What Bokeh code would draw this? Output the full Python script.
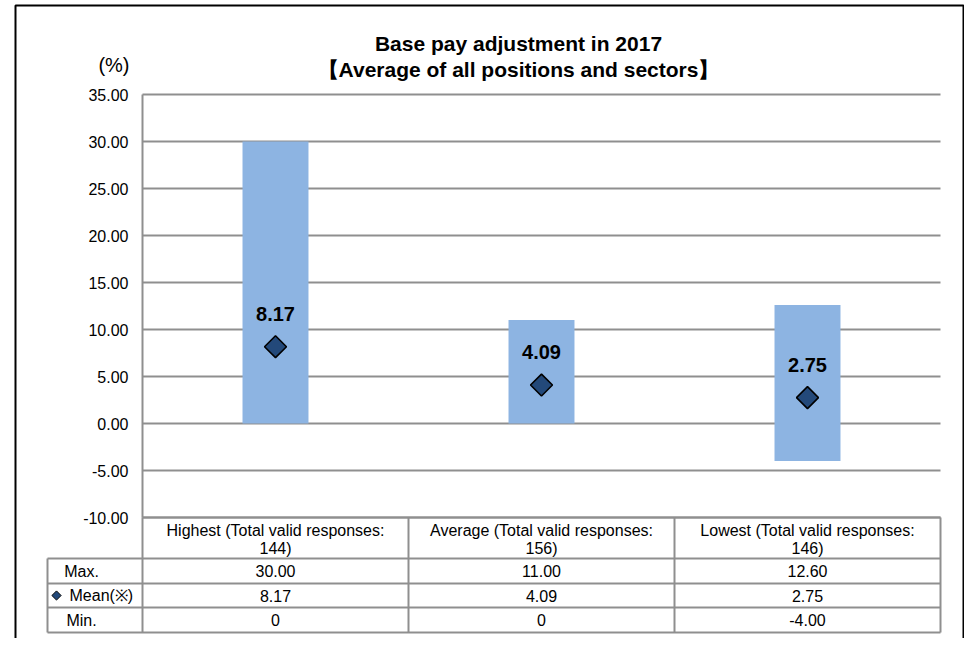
import numpy as np
from bokeh.plotting import figure
from bokeh.models import Range1d, LinearAxis, FixedTicker, NumeralTickFormatter, ColumnDataSource
from bokeh.core.properties import value
from bokeh.embed import file_html
from bokeh.resources import INLINE

# ---------------- data ----------------
categories = ["Highest", "Average", "Lowest"]
valid_responses = [144, 156, 146]
max_values = [30.00, 11.00, 12.60]
mean_values = [8.17, 4.09, 2.75]
min_values = [0.0, 0.0, -4.00]
y_ticks = [-10, -5, 0, 5, 10, 15, 20, 25, 30, 35]
row_labels = ["Max.", "Mean(※)", "Min."]
title_lines = ["Base pay adjustment in 2017", "【Average of all positions and sectors】"]
unit_label = "(%)"

# ---------------- layout (pixels) ----------------
W, H = 964, 638
ORIGIN = 0
plot_left, plot_right = 142, 940
plot_top, plot_bottom = 94, 517
y_min, y_max = -10, 35
n = len(categories)
xs = (plot_right - plot_left) / n
ys = (plot_bottom - plot_top) / (y_max - y_min)


def dx(px):
    return (px - plot_left) / xs


def dy(py):
    return y_max - (py - plot_top) / ys


FONT = value("Liberation Sans")
GRID = "#8f8f8f"

p = figure(width=W, height=H,
           x_range=Range1d(dx(ORIGIN), dx(ORIGIN + W)),
           y_range=Range1d(dy(ORIGIN + H), dy(ORIGIN)),
           x_axis_location=None, y_axis_location=None,
           toolbar_location=None, output_backend="svg",
           min_border=0, min_border_left=0, min_border_right=0,
           min_border_top=0, min_border_bottom=0)
p.grid.visible = False
p.outline_line_color = None
p.background_fill_color = "white"
p.border_fill_color = "white"

centers = [i + 0.5 for i in range(n)]

# horizontal grid lines (chart area)
p.segment(x0=[0] * len(y_ticks), x1=[n] * len(y_ticks), y0=y_ticks, y1=y_ticks,
          line_color=GRID, line_width=2)

# floating bars min..max
src = ColumnDataSource(dict(x=centers, top=max_values, bottom=min_values, mean=mean_values,
                            lab=[f"{v:.2f}" for v in mean_values]))
p.vbar(x="x", top="top", bottom="bottom", width=0.248, source=src,
       fill_color="#8DB4E2", line_color=None)

# mean diamonds
p.scatter(x="x", y="mean", source=src, marker="square", angle=np.pi / 4, size=15.5,
          fill_color="#23497A", line_color="black", line_width=1.6)

# mean labels
p.text(x="x", y="mean", text="lab", source=src, text_align="center", text_baseline="middle",
       y_offset=-33, text_font=FONT, text_font_style="bold", text_font_size="20px",
       text_color="black")

# y axis
yaxis = LinearAxis(fixed_location=0, bounds=(y_min, y_max),
                   ticker=FixedTicker(ticks=y_ticks),
                   formatter=NumeralTickFormatter(format="0.00"),
                   major_tick_out=0, major_tick_in=0, minor_tick_out=0, minor_tick_in=0,
                   axis_line_color=GRID, axis_line_width=2,
                   major_label_text_font="Liberation Sans",
                   major_label_text_font_size="16px",
                   major_label_text_color="black",
                   major_label_standoff=14)
p.add_layout(yaxis, "left")

# ---------------- data table ----------------
row_bounds = [517, 558, 583, 607, 632]
label_col_left = 47
xl = dx(label_col_left)
# horizontal table lines
hx0 = [0] + [xl] * 4
hx1 = [n] * 5
hy = [dy(v) for v in row_bounds]
p.segment(x0=hx0, x1=hx1, y0=hy, y1=hy, line_color=GRID, line_width=2)
# vertical table lines
vx = [xl] + list(range(n + 1))
vy0 = [dy(row_bounds[1])] + [dy(row_bounds[0])] * (n + 1)
vy1 = [dy(row_bounds[-1])] * (n + 2)
p.segment(x0=vx, x1=vx, y0=vy0, y1=vy1, line_color=GRID, line_width=2)

# header text (two lines)
h1 = [f"{c} (Total valid responses:" for c in categories]
h2 = [f"{v})" for v in valid_responses]
p.text(x=centers, y=[dy(530)] * n, text=h1, text_align="center", text_baseline="middle",
       text_font=FONT, text_font_size="16px", text_color="black")
p.text(x=centers, y=[dy(548)] * n, text=h2, text_align="center", text_baseline="middle",
       text_font=FONT, text_font_size="16px", text_color="black")


def fmt(v):
    return "0" if v == 0 else f"{v:.2f}"


row_centers = [(row_bounds[i] + row_bounds[i + 1]) / 2 for i in range(1, 4)]
for rc, vals in zip(row_centers, [max_values, mean_values, min_values]):
    p.text(x=centers, y=[dy(rc)] * n, text=[fmt(v) for v in vals], text_align="center",
           text_baseline="middle", text_font=FONT, text_font_size="16px", text_color="black")

# row labels
p.text(x=[dx(81), dx(81)], y=[dy(row_centers[0]), dy(row_centers[2])],
       text=[row_labels[0], row_labels[2]], text_align="center", text_baseline="middle",
       text_font=FONT, text_font_size="16px", text_color="black")
p.text(x=[dx(69)], y=[dy(row_centers[1])], text=[row_labels[1]], text_align="left",
       text_baseline="middle", text_font=FONT, text_font_size="16px", text_color="black")
p.scatter(x=[dx(56)], y=[dy(row_centers[1])], marker="square", angle=np.pi / 4, size=6.5,
          fill_color="#23497A", line_color="black", line_width=1)

# ---------------- titles ----------------
p.text(x=[dx(518)] * 2, y=[dy(43), dy(69)], text=title_lines, text_align="center",
       text_baseline="middle", text_font=FONT, text_font_style="bold",
       text_font_size="21px", text_color="black")
p.text(x=[dx(129)], y=[dy(64)], text=[unit_label], text_align="right",
       text_baseline="middle", text_font=FONT, text_font_size="20px", text_color="black")

# outer frame (left, top, right)
fx = [dx(15), dx(15), dx(ORIGIN + W - 1), dx(ORIGIN + W - 1)]
fy = [dy(ORIGIN + H + 20), dy(5), dy(5), dy(ORIGIN + H + 20)]
p.line(x=fx, y=fy, line_color="black", line_width=2)

open("out.html", "w").write(file_html(p, INLINE))
